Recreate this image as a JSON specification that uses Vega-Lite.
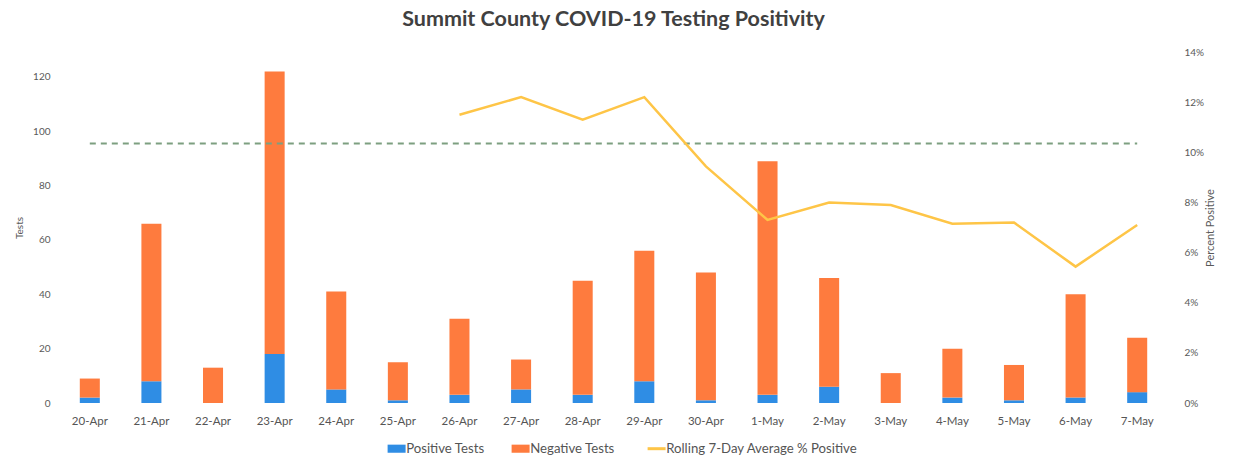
{
  "$schema": "https://vega.github.io/schema/vega-lite/v6.json",
  "width": 1109,
  "height": 351,
  "autosize": "none",
  "padding": {"left": 59, "top": 52, "right": 69, "bottom": 52},
  "background": "white",
  "config": {
    "font": "Lato",
    "view": {"stroke": null},
    "axis": {"labelColor": "#595959", "titleColor": "#595959", "labelFont": "Lato", "titleFont": "Lato", "labelFontSize": 10, "titleFontSize": 10, "titleFontWeight": "normal", "grid": false, "domain": false, "ticks": false}
  },
  "title": {"text": "Summit County COVID-19 Testing Positivity", "fontSize": 21.5, "fontWeight": "bold", "color": "#404040", "font": "Lato", "anchor": "middle", "offset": 17},
  "datasets": {
    "tests": [
      {"date": "20-Apr", "type": "Positive Tests", "count": 2},
      {"date": "20-Apr", "type": "Negative Tests", "count": 7},
      {"date": "21-Apr", "type": "Positive Tests", "count": 8},
      {"date": "21-Apr", "type": "Negative Tests", "count": 58},
      {"date": "22-Apr", "type": "Positive Tests", "count": 0},
      {"date": "22-Apr", "type": "Negative Tests", "count": 13},
      {"date": "23-Apr", "type": "Positive Tests", "count": 18},
      {"date": "23-Apr", "type": "Negative Tests", "count": 104},
      {"date": "24-Apr", "type": "Positive Tests", "count": 5},
      {"date": "24-Apr", "type": "Negative Tests", "count": 36},
      {"date": "25-Apr", "type": "Positive Tests", "count": 1},
      {"date": "25-Apr", "type": "Negative Tests", "count": 14},
      {"date": "26-Apr", "type": "Positive Tests", "count": 3},
      {"date": "26-Apr", "type": "Negative Tests", "count": 28},
      {"date": "27-Apr", "type": "Positive Tests", "count": 5},
      {"date": "27-Apr", "type": "Negative Tests", "count": 11},
      {"date": "28-Apr", "type": "Positive Tests", "count": 3},
      {"date": "28-Apr", "type": "Negative Tests", "count": 42},
      {"date": "29-Apr", "type": "Positive Tests", "count": 8},
      {"date": "29-Apr", "type": "Negative Tests", "count": 48},
      {"date": "30-Apr", "type": "Positive Tests", "count": 1},
      {"date": "30-Apr", "type": "Negative Tests", "count": 47},
      {"date": "1-May", "type": "Positive Tests", "count": 3},
      {"date": "1-May", "type": "Negative Tests", "count": 86},
      {"date": "2-May", "type": "Positive Tests", "count": 6},
      {"date": "2-May", "type": "Negative Tests", "count": 40},
      {"date": "3-May", "type": "Positive Tests", "count": 0},
      {"date": "3-May", "type": "Negative Tests", "count": 11},
      {"date": "4-May", "type": "Positive Tests", "count": 2},
      {"date": "4-May", "type": "Negative Tests", "count": 18},
      {"date": "5-May", "type": "Positive Tests", "count": 1},
      {"date": "5-May", "type": "Negative Tests", "count": 13},
      {"date": "6-May", "type": "Positive Tests", "count": 2},
      {"date": "6-May", "type": "Negative Tests", "count": 38},
      {"date": "7-May", "type": "Positive Tests", "count": 4},
      {"date": "7-May", "type": "Negative Tests", "count": 20}
    ],
    "rolling": [
      {"date": "26-Apr", "pct": 0.115},
      {"date": "27-Apr", "pct": 0.122},
      {"date": "28-Apr", "pct": 0.113},
      {"date": "29-Apr", "pct": 0.122},
      {"date": "30-Apr", "pct": 0.0944},
      {"date": "1-May", "pct": 0.073},
      {"date": "2-May", "pct": 0.080},
      {"date": "3-May", "pct": 0.079},
      {"date": "4-May", "pct": 0.0715},
      {"date": "5-May", "pct": 0.072},
      {"date": "6-May", "pct": 0.0544},
      {"date": "7-May", "pct": 0.071}
    ],
    "threshold": [
      {"date": "20-Apr", "pct": 0.1035},
      {"date": "7-May", "pct": 0.1035}
    ]
  },
  "layer": [
    {
      "data": {"name": "tests"},
      "mark": {"type": "bar"},
      "encoding": {
        "x": {
          "field": "date", "type": "nominal", "sort": null, "title": null,
          "scale": {"domain": ["20-Apr","21-Apr","22-Apr","23-Apr","24-Apr","25-Apr","26-Apr","27-Apr","28-Apr","29-Apr","30-Apr","1-May","2-May","3-May","4-May","5-May","6-May","7-May"], "paddingInner": 0.675, "paddingOuter": 0.3375},
          "axis": {"labelAngle": 0, "labelPadding": 12, "labelFontSize": 11.5, "labelColor": "#555555"}
        },
        "y": {
          "field": "count", "type": "quantitative", "stack": "zero", "title": "Tests",
          "scale": {"domain": [0, 129.2], "nice": false},
          "axis": {"values": [0, 20, 40, 60, 80, 100, 120], "labelPadding": 9, "titlePadding": 8, "orient": "left"}
        },
        "color": {
          "field": "type", "type": "nominal",
          "scale": {"domain": ["Positive Tests", "Negative Tests", "Rolling 7-Day Average % Positive"], "range": ["#2f8de4", "#fe7b3e", "#fec547"]},
          "legend": {
            "title": null, "orient": "none", "legendX": 331, "legendY": 390, "direction": "horizontal",
            "labelFontSize": 13.2, "labelColor": "#555555", "labelLimit": 400, "symbolSize": 324, "columnPadding": 26, "labelOffset": 3,
            "encode": {
              "symbols": {
                "update": {
                  "shape": {"signal": "datum.value === 'Rolling 7-Day Average % Positive' ? 'M-1,0L1,0' : 'M-1,-0.45L1,-0.45L1,0.45L-1,0.45Z'"},
                  "fill": {"signal": "datum.value === 'Rolling 7-Day Average % Positive' ? 'transparent' : scale('color', datum.value)"},
                  "stroke": {"signal": "scale('color', datum.value)"},
                  "strokeWidth": {"signal": "datum.value === 'Rolling 7-Day Average % Positive' ? 3 : 0"},
                  "opacity": {"value": 1}
                }
              }
            }
          }
        },
        "order": {"field": "type", "sort": "descending"}
      }
    },
    {
      "layer": [
        {
          "data": {"name": "threshold"},
          "mark": {"type": "line", "color": "#7d9f80", "strokeWidth": 2.2, "strokeDash": [6, 5]},
          "encoding": {
            "x": {"field": "date", "type": "nominal", "sort": null},
            "y": {"field": "pct", "type": "quantitative"}
          }
        },
        {
          "data": {"name": "rolling"},
          "mark": {"type": "line", "strokeWidth": 2.5},
          "encoding": {
            "x": {"field": "date", "type": "nominal", "sort": null},
            "y": {
              "field": "pct", "type": "quantitative", "title": "Percent Positive",
              "scale": {"domain": [0, 0.14], "nice": false},
              "axis": {"orient": "right", "format": ".0%", "values": [0, 0.02, 0.04, 0.06, 0.08, 0.1, 0.12, 0.14], "labelPadding": 16, "titlePadding": 12, "titleAngle": 270, "titleFontSize": 11}
            },
            "color": {"datum": "Rolling 7-Day Average % Positive"}
          }
        }
      ]
    }
  ],
  "resolve": {"scale": {"y": "independent"}}
}
